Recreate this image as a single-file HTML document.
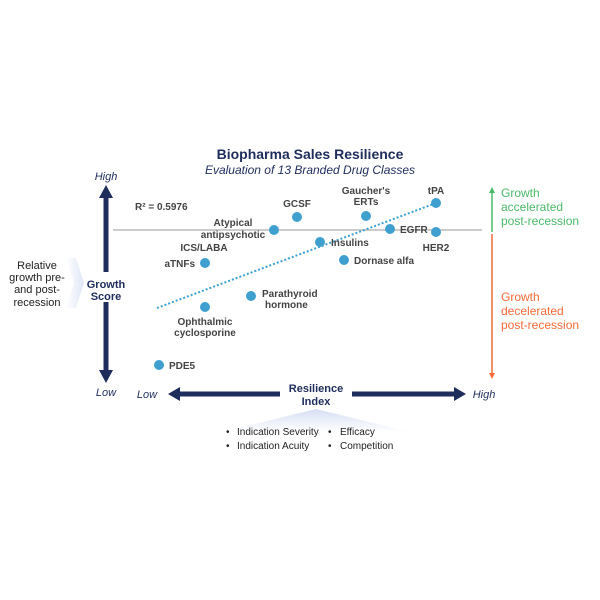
<!DOCTYPE html>
<html><head><style>body{margin:0;background:#fff}svg{display:block}text{font-family:"Liberation Sans",Arial,sans-serif}</style></head>
<body>
<svg width="600" height="600" viewBox="0 0 600 600" xmlns="http://www.w3.org/2000/svg">
<defs>
<linearGradient id="lg" x1="0" x2="1" y1="0" y2="0"><stop offset="0" stop-color="#fff"/><stop offset="1" stop-color="#dfe6f5"/></linearGradient>
<linearGradient id="tg" x1="0" x2="0" y1="0" y2="1"><stop offset="0" stop-color="#d6def2"/><stop offset="1" stop-color="#fff"/></linearGradient>
</defs>
<text x="310" y="159" text-anchor="middle" font-size="14" font-weight="bold" fill="#1f2d5c">Biopharma Sales Resilience</text>
<text x="310" y="174" text-anchor="middle" font-size="12" font-style="italic" fill="#1f2d5c">Evaluation of 13 Branded Drug Classes</text>
<polygon points="66,258 76,258 84,283 76,308 66,308 74,283" fill="url(#lg)"/>
<g font-size="11" fill="#222" text-anchor="middle">
<text x="37" y="269">Relative</text><text x="37" y="281">growth pre-</text><text x="37" y="293">and post-</text><text x="37" y="306">recession</text></g>
<text x="106" y="180" text-anchor="middle" font-size="11" font-style="italic" fill="#1f2d5c">High</text>
<text x="106" y="396" text-anchor="middle" font-size="11" font-style="italic" fill="#1f2d5c">Low</text>
<line x1="106" y1="196" x2="106" y2="272" stroke="#1f2d5c" stroke-width="5"/>
<polygon points="99,198 113,198 106,185" fill="#1f2d5c"/>
<line x1="106" y1="302" x2="106" y2="372" stroke="#1f2d5c" stroke-width="5"/>
<polygon points="99,370 113,370 106,383" fill="#1f2d5c"/>
<text x="106" y="288" text-anchor="middle" font-size="11" font-weight="bold" fill="#1f2d5c">Growth</text>
<text x="106" y="300" text-anchor="middle" font-size="11" font-weight="bold" fill="#1f2d5c">Score</text>
<line x1="113" y1="230" x2="482" y2="230" stroke="#bbb" stroke-width="1.5"/>
<text x="135" y="210" font-size="10" font-weight="bold" fill="#444">R² = 0.5976</text>
<line x1="157" y1="308" x2="436" y2="203" stroke="#3fa0d0" stroke-width="2" stroke-dasharray="2,2"/>
<g fill="#3fa0d0">
<circle cx="274" cy="230" r="5"/><circle cx="297" cy="217" r="5"/><circle cx="366" cy="216" r="5"/><circle cx="436" cy="203" r="5"/>
<circle cx="390" cy="229" r="5"/><circle cx="436" cy="232" r="5"/><circle cx="320" cy="242" r="5"/><circle cx="344" cy="260" r="5"/>
<circle cx="205" cy="263" r="5"/><circle cx="251" cy="296" r="5"/><circle cx="205" cy="307" r="5"/><circle cx="159" cy="365" r="5"/></g>
<g font-size="10" font-weight="bold" fill="#444">
<text x="297" y="207" text-anchor="middle">GCSF</text>
<text x="366" y="194" text-anchor="middle">Gaucher's</text><text x="366" y="205" text-anchor="middle">ERTs</text>
<text x="436" y="194" text-anchor="middle">tPA</text>
<text x="400" y="233">EGFR</text>
<text x="436" y="251" text-anchor="middle">HER2</text>
<text x="331" y="246">Insulins</text>
<text x="354" y="264">Dornase alfa</text>
<text x="233" y="226" text-anchor="middle">Atypical</text><text x="233" y="238" text-anchor="middle">antipsychotic</text>
<text x="204" y="251" text-anchor="middle">ICS/LABA</text>
<text x="195" y="267" text-anchor="end">aTNFs</text>
<text x="262" y="297">Parathyroid</text><text x="265" y="308">hormone</text>
<text x="205" y="325" text-anchor="middle">Ophthalmic</text><text x="205" y="336" text-anchor="middle">cyclosporine</text>
<text x="169" y="369">PDE5</text></g>
<line x1="492" y1="232" x2="492" y2="192" stroke="#4cb86a" stroke-width="1.5"/>
<polygon points="489,193 495,193 492,187" fill="#4cb86a"/>
<g font-size="12" fill="#4cb86a"><text x="501" y="197">Growth</text><text x="501" y="211">accelerated</text><text x="501" y="225">post-recession</text></g>
<line x1="492" y1="234" x2="492" y2="374" stroke="#f26b3a" stroke-width="1.5"/>
<polygon points="489,373 495,373 492,379" fill="#f26b3a"/>
<g font-size="12" fill="#f26b3a"><text x="501" y="301">Growth</text><text x="501" y="315">decelerated</text><text x="501" y="329">post-recession</text></g>
<text x="147" y="398" text-anchor="middle" font-size="11" font-style="italic" fill="#1f2d5c">Low</text>
<text x="484" y="398" text-anchor="middle" font-size="11" font-style="italic" fill="#1f2d5c">High</text>
<line x1="178" y1="394" x2="280" y2="394" stroke="#1f2d5c" stroke-width="5"/>
<polygon points="180,387 180,401 168,394" fill="#1f2d5c"/>
<line x1="352" y1="394" x2="456" y2="394" stroke="#1f2d5c" stroke-width="5"/>
<polygon points="454,387 454,401 466,394" fill="#1f2d5c"/>
<text x="316" y="392" text-anchor="middle" font-size="11" font-weight="bold" fill="#1f2d5c">Resilience</text>
<text x="316" y="405" text-anchor="middle" font-size="11" font-weight="bold" fill="#1f2d5c">Index</text>
<polygon points="316,409 410,432 222,432" fill="url(#tg)"/>
<g font-size="10" fill="#222">
<text x="226" y="435">•</text><text x="237" y="435">Indication Severity</text>
<text x="328" y="435">•</text><text x="340" y="435">Efficacy</text>
<text x="226" y="449">•</text><text x="237" y="449">Indication Acuity</text>
<text x="328" y="449">•</text><text x="340" y="449">Competition</text></g>
</svg>
</body></html>
